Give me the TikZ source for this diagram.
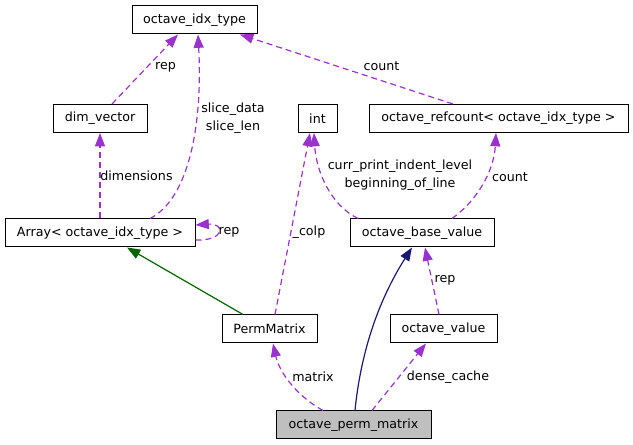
\documentclass[tikz,border=0pt]{standalone}
\usepackage{fontspec}
\setmainfont{DejaVu Sans}
\usepackage{tikz}
\usetikzlibrary{arrows.meta, calc}
\definecolor{relpurple}{HTML}{9A32CD}
\definecolor{inhgreen}{HTML}{006400}
\definecolor{pubnavy}{HTML}{191970}
\definecolor{curgray}{HTML}{BFBFBF}

\begin{document}
\begin{tikzpicture}[
    x=0.75pt, y=-0.75pt,
    cls/.style={rectangle, draw=black, line width=0.75pt, fill=white,
                minimum width=#1, minimum height=21pt, inner sep=0pt,
                font=\fontsize{9.5pt}{11pt}\selectfont},
    rel/.style={draw=relpurple, line width=0.9pt, dash pattern=on 4.5pt off 3pt,
                -{Triangle[length=10pt,width=7.5pt]}},
    inh/.style={draw=#1, line width=0.9pt, -{Triangle[length=10pt,width=7.5pt]}},
    lbl/.style={font=\fontsize{9.5pt}{13.3pt}\selectfont, align=center, inner sep=0pt}
]
\useasboundingbox (0,0) rectangle (633,445);

\node[cls=93.75pt]  (idx)      at (194.5, 20)   {octave\_idx\_type};
\node[cls=70.5pt]   (dimvec)   at (100, 118.5)  {dim\_vector};
\node[cls=29.25pt]  (int)      at (317.5, 118.5){int};
\node[cls=194.25pt] (refcount) at (498.5, 118.5){octave\_refcount< octave\_idx\_type >};
\node[cls=142.5pt]  (array)    at (100, 233)    {Array< octave\_idx\_type >};
\node[cls=108pt]    (base)     at (422, 233)    {octave\_base\_value};
\node[cls=71.25pt]  (perm)     at (269.5, 329)  {PermMatrix};
\node[cls=80.25pt]  (oval)     at (443.5, 329)  {octave\_value};
\node[cls=116.25pt, fill=curgray] (opm) at (353.5, 425) {octave\_perm\_matrix};

\draw[rel] ($(dimvec.north)+(12,0)$) -- ($(idx.south)+(-16.5,0)$);
\draw[rel] ($(array.north)+(50,0)$) .. controls (187,200) and (203,130) .. ($(idx.south)+(3.5,0)$);
\draw[rel] (array.north) -- (dimvec.south);
\draw[rel] ($(array.east)+(0,7)$) .. controls ($(array.east)+(30,8)$) and ($(array.east)+(30,-10)$) .. ($(array.east)+(0,-8)$);
\draw[rel] ($(refcount.north)+(-45.5,0)$) -- ($(idx.south)+(45.5,0)$);
\draw[rel] ($(base.north)+(-64,0)$) .. controls (330,205) and (316,170) .. ($(int.south)+(-3.5,0)$);
\draw[rel] ($(base.north)+(30,0)$) .. controls (478,200) and (494,170) .. ($(refcount.south)+(-2.5,0)$);
\draw[rel] ($(perm.north)+(5.5,0)$) -- ($(int.south)+(-7.5,0)$);
\draw[inh=inhgreen] ($(perm.north)+(-26.5,0)$) -- ($(array.south)+(27,0)$);
\draw[rel] ($(oval.north)+(-4.5,0)$) -- ($(base.south)+(3,0)$);
\draw[inh=pubnavy] ($(opm.north)+(1.5,0)$) .. controls (362,340) and (385,290) .. ($(base.south)+(-10,0)$);
\draw[rel] ($(opm.north)+(-30.5,0)$) .. controls (300,398) and (280,375) .. ($(perm.south)+(3.5,0)$);
\draw[rel] ($(opm.north)+(18.5,0)$) -- ($(oval.south)+(-17.5,0)$);

\node[lbl] (l-rep1)   at (165.5, 67)  {rep};
\node[lbl] (l-slice)  at (233, 118)   {slice\_data\\slice\_len};
\node[lbl] (l-dims)   at (136.5, 176) {dimensions};
\node[lbl] (l-rep2)   at (229, 232.5) {rep};
\node[lbl] (l-count1) at (381.5, 66.5){count};
\node[lbl] (l-indent) at (400, 175.5) {curr\_print\_indent\_level\\beginning\_of\_line};
\node[lbl] (l-count2) at (510, 177)   {count};
\node[lbl] (l-colp)   at (309, 232)   {\_colp};
\node[lbl] (l-rep3)   at (445, 280)   {rep};
\node[lbl] (l-matrix) at (313, 377)   {matrix};
\node[lbl] (l-dense)  at (448, 377)   {dense\_cache};
\end{tikzpicture}
\end{document}
